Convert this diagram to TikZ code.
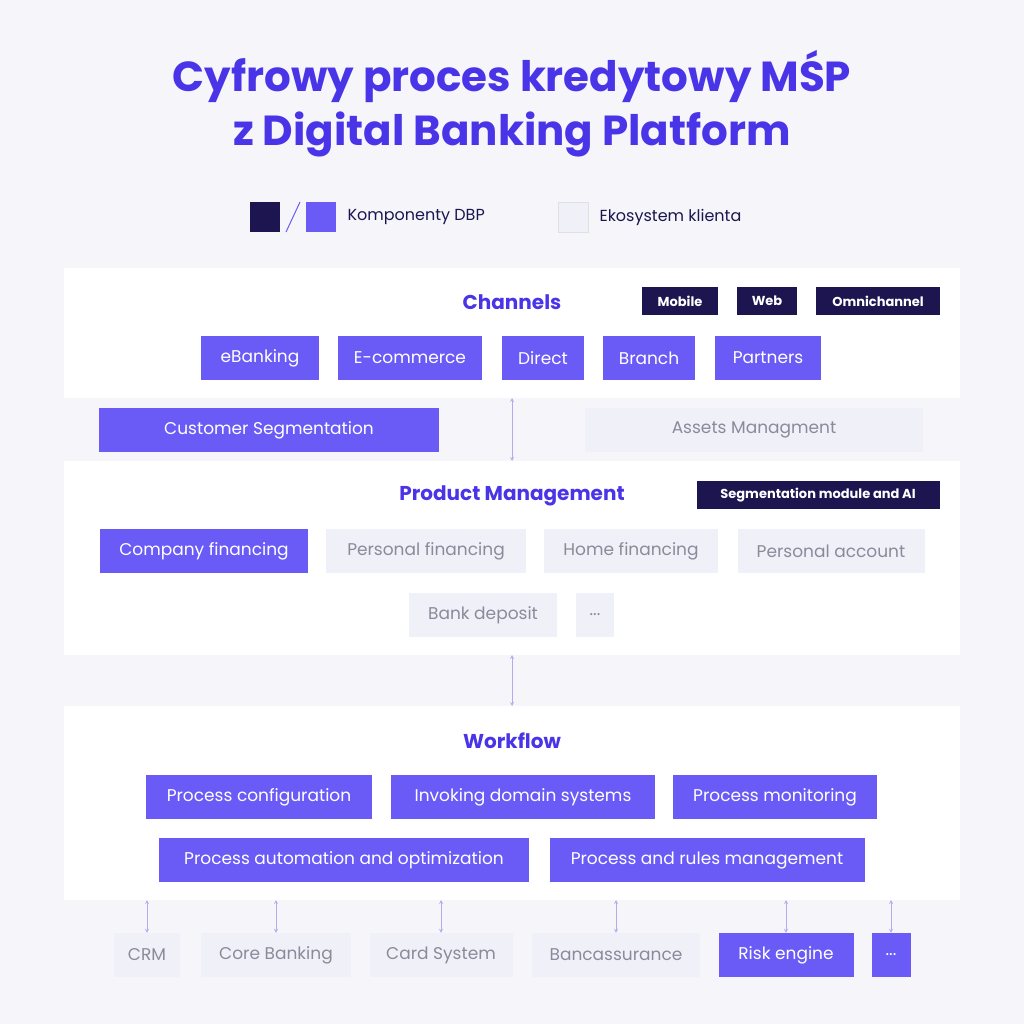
\documentclass[tikz,border=0pt]{standalone}
\usepackage{fontspec}
\setmainfont{Poppins}
\definecolor{pagebg}{HTML}{F5F5FA}
\definecolor{dbpviolet}{HTML}{6A5BF7}
\definecolor{dbpnavy}{HTML}{1C1550}
\definecolor{ecobox}{HTML}{F0F0F8}
\definecolor{ecotext}{HTML}{8A8A9A}
\definecolor{titleviolet}{HTML}{4A34E8}
\definecolor{arrowlilac}{HTML}{B3ABEE}
\newcommand{\moredots}{...}
\tikzset{
	dbp/.style={fill=dbpviolet,text=white,minimum height=44pt,font=\fontsize{17}{20}\selectfont,inner sep=0pt},
	eco/.style={fill=ecobox,text=ecotext,minimum height=44pt,font=\fontsize{17}{20}\selectfont,inner sep=0pt},
	tag/.style={fill=dbpnavy,text=white,minimum height=28pt,font=\fontsize{13}{15}\selectfont\bfseries,inner sep=0pt},
	head/.style={text=titleviolet,font=\fontsize{20}{24}\selectfont\bfseries},
	panel/.style={fill=white,draw=none},
	link/.style={<->,>=stealth,draw=arrowlilac,line width=0.8pt}
}
\begin{document}
\begin{tikzpicture}[x=1pt,y=-1pt]
	\fill[pagebg] (0,0) rectangle (1024,1024);
	\useasboundingbox (0,0) rectangle (1024,1024);
	% title and legend
	\node[text=titleviolet,font=\fontsize{42}{54}\selectfont\bfseries,align=center] (title) at (512,104) {Cyfrowy proces kredytowy MŚP\\z Digital Banking Platform};
	\node[fill=dbpnavy,minimum size=30pt,inner sep=0pt] (lgnavy) at (265,217) {};
	\node[fill=dbpviolet,minimum size=30pt,inner sep=0pt] (lgviolet) at (321,217) {};
	\draw[dbpviolet,line width=1pt] (286,232) -- (300,202);
	\node[anchor=west,font=\fontsize{16}{20}\selectfont,text=dbpnavy] (lgdbp) at (344,217) {Komponenty DBP};
	\node[fill=ecobox,draw=black!12,minimum size=30pt,inner sep=0pt] (lgeco) at (573,217) {};
	\node[anchor=west,font=\fontsize{16}{20}\selectfont,text=dbpnavy] (lgecot) at (596,217) {Ekosystem klienta};
	% panels
	\fill[panel] (64,268) rectangle (960,398);
	\fill[panel] (64,461) rectangle (960,655);
	\fill[panel] (64,706) rectangle (960,900);
	% channels
	\node[head] (channels) at (512,302) {Channels};
	\node[tag,minimum width=76pt] (mobile) at (680,301) {Mobile};
	\node[tag,minimum width=60pt] (web) at (767,301) {Web};
	\node[tag,minimum width=124pt] (omni) at (878,301) {Omnichannel};
	\node[dbp,minimum width=118pt] (ebank) at (260,358) {eBanking};
	\node[dbp,minimum width=144pt] (ecom) at (410,358) {E-commerce};
	\node[dbp,minimum width=82pt] (direct) at (543,358) {Direct};
	\node[dbp,minimum width=92pt] (branch) at (649,358) {Branch};
	\node[dbp,minimum width=106pt] (partners) at (768,358) {Partners};
	\node[dbp,minimum width=340pt] (custseg) at (269,430) {Customer Segmentation};
	\node[eco,minimum width=338pt] (assets) at (754,430) {Assets Managment};
	\coordinate (chbot) at (512,398);
	\coordinate (pmtop) at (512,461);
	\draw[link] (chbot) -- (pmtop);
	% product management
	\node[head] (prodmgmt) at (512,496) {Product Management};
	\node[tag,minimum width=243pt] (segai) at (818,495) {Segmentation module and AI};
	\node[dbp,minimum width=208pt] (compfin) at (204,551) {Company financing};
	\node[eco,minimum width=200pt] (persfin) at (426,551) {Personal financing};
	\node[eco,minimum width=174pt] (homefin) at (631,551) {Home financing};
	\node[eco,minimum width=187pt] (persacc) at (831,551) {Personal account};
	\node[eco,minimum width=148pt] (deposit) at (483,615) {Bank deposit};
	\node[eco,minimum width=38pt] (prodmore) at (595,615) {...};
	\coordinate (pmbot) at (512,655);
	\coordinate (wftop) at (512,706);
	\draw[link] (pmbot) -- (wftop);
	% workflow
	\node[head] (workflow) at (512,741) {Workflow};
	\node[dbp,minimum width=226pt] (pconf) at (259,797) {Process configuration};
	\node[dbp,minimum width=264pt] (invoke) at (523,797) {Invoking domain systems};
	\node[dbp,minimum width=204pt] (pmon) at (775,797) {Process monitoring};
	\node[dbp,minimum width=370pt] (pauto) at (344,860) {Process automation and optimization};
	\node[dbp,minimum width=315pt] (prules) at (707,860) {Process and rules management};
	% domain systems
	\foreach \name/\x/\w/\sty/\txt in {crm/147/66/eco/CRM, core/276/150/eco/Core Banking, card/441/143/eco/Card System, banc/616/168/eco/Bancassurance, risk/786/135/dbp/Risk engine, sysmore/891/39/dbp/\moredots}{
		\node[\sty,minimum width=\w pt] (\name) at (\x,955) {\txt};
		\coordinate (\name up) at (\x,900);
		\draw[link] (\name up) -- (\name.north);
	}
\end{tikzpicture}
\end{document}
